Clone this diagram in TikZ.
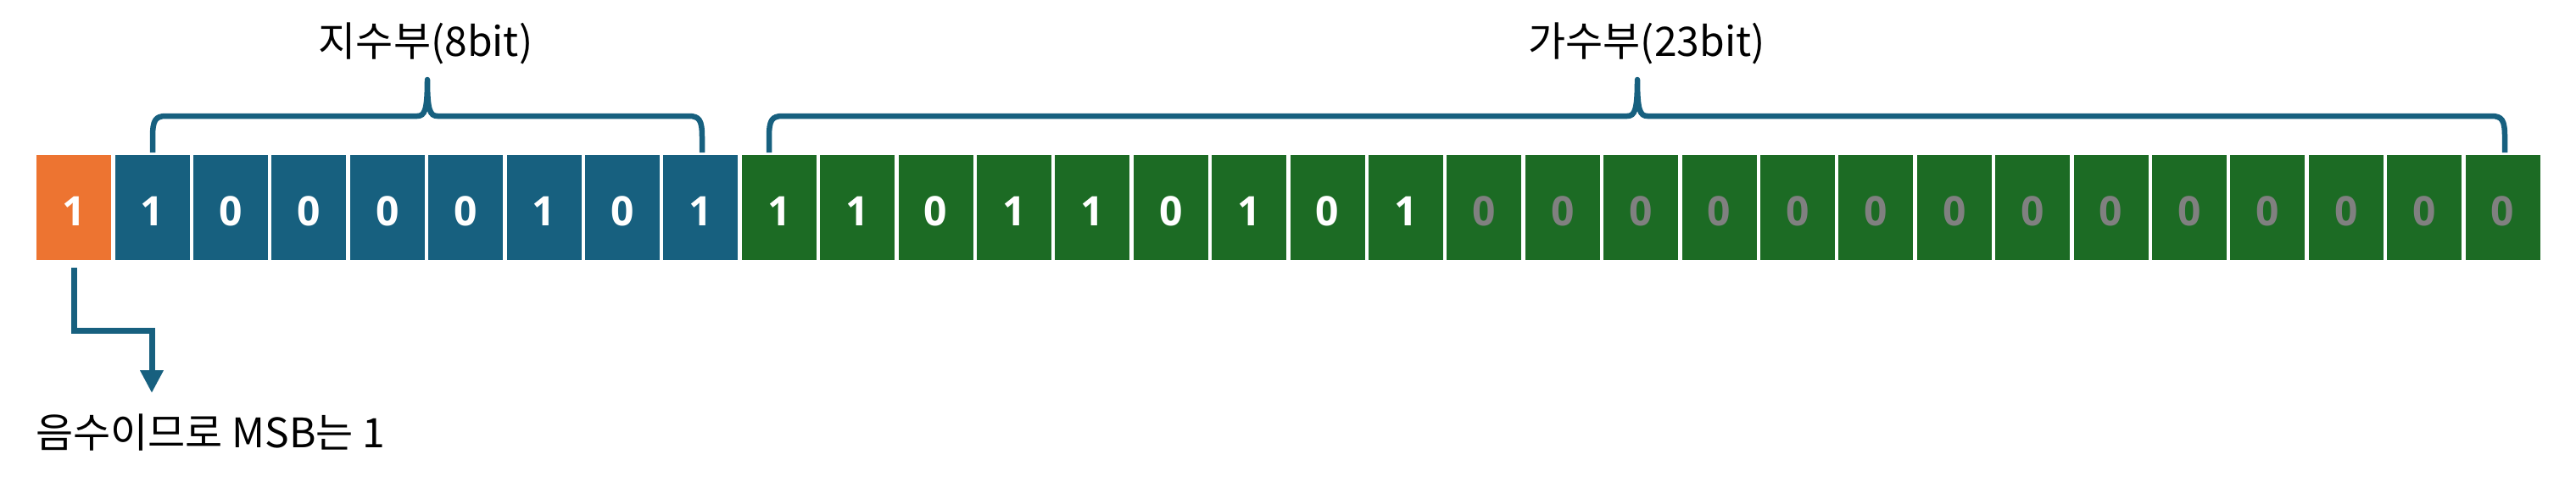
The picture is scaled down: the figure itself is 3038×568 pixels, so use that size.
\documentclass[tikz,border=0pt]{standalone}
\usepackage{fontspec}
\setmainfont{Open Sans}
\newfontfamily\krfont{Noto Sans CJK KR}
\usetikzlibrary{arrows.meta,calc}
\definecolor{signc}{HTML}{ED7431}
\definecolor{expc}{HTML}{17607F}
\definecolor{manc}{HTML}{1C6B24}
\definecolor{zeroc}{HTML}{808080}
\newcommand\drawbrace[3]{%
  \draw[brk] (#1,180) -- (#1,162) .. controls (#1,142) and (#1+3,137) .. (#1+16,137)
    -- (#3-12,137) .. controls (#3-3,137) and (#3,130) .. (#3,94)
    .. controls (#3,130) and (#3+3,137) .. (#3+12,137)
    -- (#2-16,137) .. controls (#2-3,137) and (#2,142) .. (#2,162) -- (#2,180);}
\begin{document}
\begin{tikzpicture}[x=1pt,y=-1pt,
  bitbox/.style={minimum width=88pt,minimum height=124pt,inner sep=0pt,anchor=north west,draw=none},
  digit/.style={anchor=base,inner sep=0pt,font=\fontsize{48}{48}\selectfont\bfseries,text=white},
  lab/.style={inner sep=0pt,font=\krfont\fontsize{48}{48}\selectfont,text=black},
  brk/.style={draw=expc,line width=6.5pt,line join=round},
  conn/.style={draw=expc,line width=7pt}]
\useasboundingbox (0,0) rectangle (3038,568);
% sign bit
\node[bitbox,fill=signc] (b0) at (43,183) {};
\node[digit] (t0) at ($(b0.south)+(0,-41)$) {1};
% exponent
\foreach \d [count=\i from 1] in {1,0,0,0,0,1,0,1}{
  \pgfmathsetmacro\xx{43+92.4*\i}
  \node[bitbox,fill=expc] (b\i) at (\xx,183) {};
  \node[digit] (t\i) at ($(b\i.south)+(0,-41)$) {\d};
}
% mantissa
\foreach \d [count=\i from 9] in {1,1,0,1,1,0,1,0,1}{
  \pgfmathsetmacro\xx{43+92.4*\i}
  \node[bitbox,fill=manc] (b\i) at (\xx,183) {};
  \node[digit] (t\i) at ($(b\i.south)+(0,-41)$) {\d};
}
\foreach \i in {18,...,31}{
  \pgfmathsetmacro\xx{43+92.4*\i}
  \node[bitbox,fill=manc] (b\i) at (\xx,183) {};
  \node[digit,text=zeroc] (t\i) at ($(b\i.south)+(0,-41)$) {0};
}
% braces
\drawbrace{180}{828}{504}
\drawbrace{907}{2954}{1931}
\node[lab,anchor=base] (elab) at (502,66) {지수부(8bit)};
\node[lab,anchor=base] (mlab) at (1942,66) {가수부(23bit)};
% sign note
\node[lab,anchor=base west] (note) at (42,528) {음수이므로 MSB는 1};
\coordinate (a1) at ($(b0.south)+(0,9)$);
\coordinate (tipc) at (179,464);
\draw[conn,-{Triangle[width=26pt,length=27pt]}] (a1) -- ++(0,74) -| (tipc);
\end{tikzpicture}
\end{document}
